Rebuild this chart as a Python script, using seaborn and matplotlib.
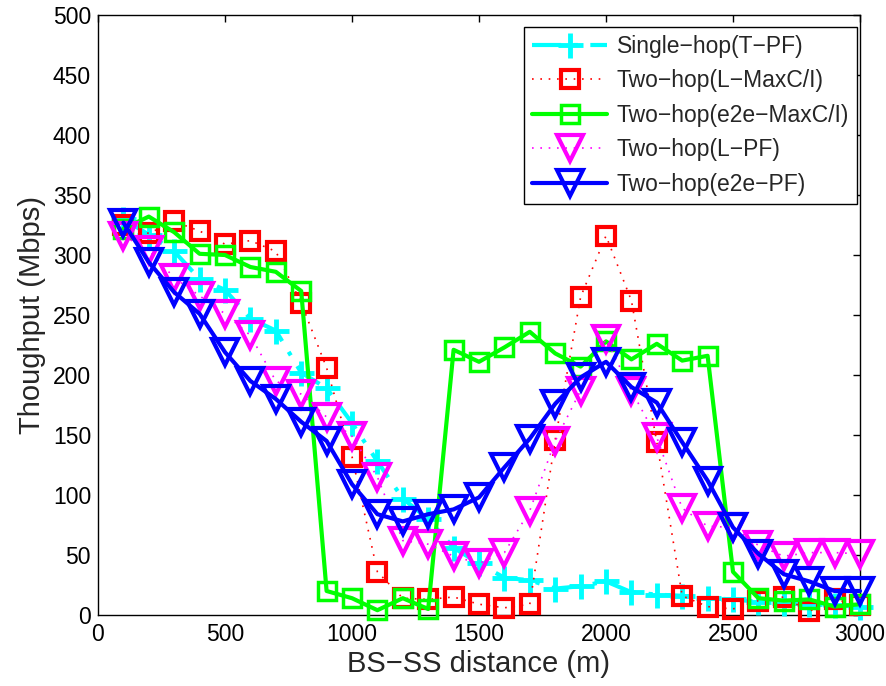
import numpy as np
import pandas as pd
import matplotlib
matplotlib.use("Agg")
import matplotlib.pyplot as plt
import seaborn as sns

distance = list(range(100, 3001, 100))

single_tpf = [330, 317, 303, 280, 271, 247, 237, 202, 189, 160,
              128, 97, 80, 56, 43, 31, 29, 22, 24, 28,
              19, 17, 16, 14, 13, 11, 10, 9, 8, 7]
two_l_maxci = [325, 318, 328, 320, 309, 312, 303, 260, 206, 132,
               36, 14, 13, 15, 9, 6, 9, 146, 265, 316,
               262, 144, 16, 7, 5, 12, 15, 3, 13, 8]
two_e2e_maxci = [322, 332, 319, 301, 300, 290, 286, 270, 20, 14,
                 4, 14, 5, 221, 211, 223, 236, 218, 207, 228,
                 213, 226, 212, 216, 36, 14, 12, 13, 7, 9]
two_l_pf = [316, 304, 281, 266, 251, 233, 195, 184, 165, 149,
            115, 62, 59, 49, 43, 52, 87, 145, 187, 230,
            187, 148, 89, 74, 73, 58, 49, 52, 52, 51]
two_e2e_pf = [327, 294, 269, 251, 219, 195, 180, 161, 145, 109,
              84, 78, 84, 88, 98, 123, 147, 176, 198, 211,
              190, 177, 144, 112, 73, 51, 34, 28, 20, 20]

labels = ["Single\u2212hop(T\u2212PF)", "Two\u2212hop(L\u2212MaxC/I)",
          "Two\u2212hop(e2e\u2212MaxC/I)", "Two\u2212hop(L\u2212PF)",
          "Two\u2212hop(e2e\u2212PF)"]
series = [single_tpf, two_l_maxci, two_e2e_maxci, two_l_pf, two_e2e_pf]

sns.set_style("white")
plt.rcParams["font.family"] = ["Liberation Sans", "DejaVu Sans"]

styles = [
    dict(color="#00FFFF", linestyle=(0, (7, 3, 1, 3)), marker="+", markersize=18, lw=3, mew=3.5),
    dict(color="#FF0000", linestyle=(0, (1, 4)), marker="s", markersize=13, lw=1.2, mew=3),
    dict(color="#00FF00", linestyle="-", marker="s", markersize=13, lw=3, mew=2.5),
    dict(color="#FF00FF", linestyle=(0, (1, 4)), marker="v", markersize=19, lw=1.2, mew=3),
    dict(color="#0000FF", linestyle="-", marker="v", markersize=19, lw=3, mew=3),
]

W, H = 887, 686
fig = plt.figure(figsize=(W/100, H/100), dpi=100)
ax = fig.add_axes([98/W, 1-615/H, (860-98)/W, 600/H])

for lab, vals, st in zip(labels, series, styles):
    df = pd.DataFrame({"x": distance, "y": vals})
    sns.lineplot(data=df, x="x", y="y", ax=ax, label=lab,
                 color=st["color"], linestyle=st["linestyle"],
                 marker=st["marker"], markersize=st["markersize"],
                 linewidth=st["lw"], markeredgewidth=st["mew"],
                 markerfacecolor="none", markeredgecolor=st["color"],
                 estimator=None, sort=False, clip_on=False)

ax.set_xlim(0, 3000)
ax.set_ylim(0, 500)
ax.set_xticks(np.arange(0, 3001, 500))
ax.set_yticks(np.arange(0, 501, 50))
ax.tick_params(direction="in", top=True, right=True, length=5, width=1,
               labelsize=16.5, colors="black")
ax.tick_params(axis="x", pad=6)
ax.tick_params(axis="y", pad=5)
for s in ax.spines.values():
    s.set_color("black")
    s.set_linewidth(1)
    s.set_zorder(0.5)
ax.set_xlabel("BS\u2212SS distance (m)", fontsize=21, labelpad=3)
ax.set_ylabel("Thoughput (Mbps)", fontsize=21, labelpad=5)

leg = ax.legend(loc="upper right", bbox_to_anchor=(857/W, 1-27/H),
                bbox_transform=fig.transFigure,
                fontsize=16.5, frameon=True, fancybox=False,
                framealpha=1, edgecolor="black", numpoints=1,
                handlelength=3.3, handletextpad=0.4, labelspacing=0.5,
                borderaxespad=0, borderpad=0.35)
leg.get_frame().set_linewidth(1)
leg.set_zorder(5)

fig.savefig("out.png", dpi=100)
